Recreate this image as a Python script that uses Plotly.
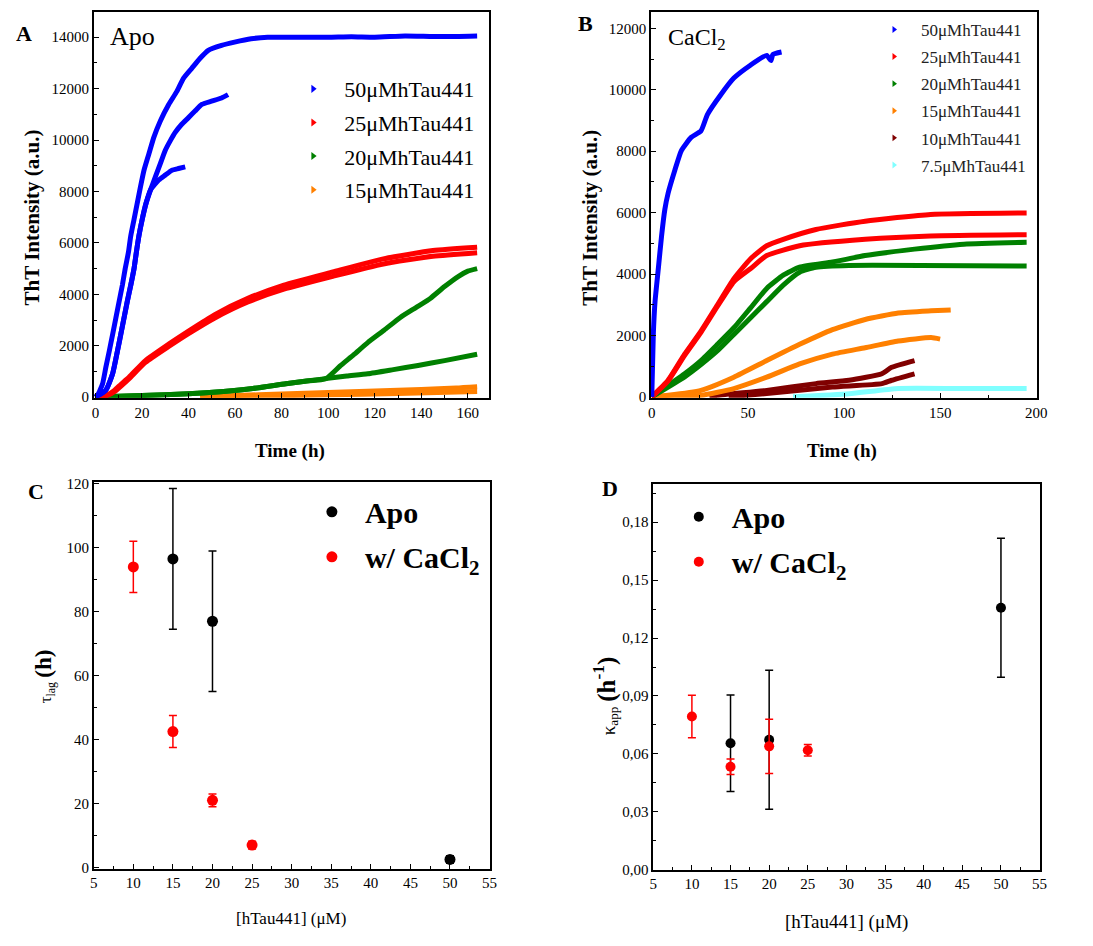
import plotly.graph_objects as go

# ---------------- Panel A (Apo) data: time (h), ThT intensity ----------------
a_blue1_t = [0, 1.0, 3.1, 4.5, 6.0, 7.4, 8.8, 10.2, 11.6, 12.8, 14.2, 15.2, 16.6, 18.0, 19.4, 20.9, 23.0, 25.1, 27.9, 31.5, 35.0, 37.9, 41.4, 44.9, 48.5, 54.2, 59.8, 66.9, 74, 88, 100, 110, 120, 133, 145, 155, 164]
a_blue1_y = [0, 77, 524, 1163, 1801, 2440, 3078, 3718, 4357, 4995, 5634, 6274, 6911, 7551, 8190, 8828, 9467, 10107, 10744, 11384, 11894, 12407, 12790, 13174, 13492, 13684, 13810, 13940, 14000, 14000, 14000, 14020, 14000, 14050, 14030, 14030, 14050]
a_blue2_t = [0, 4.5, 7.4, 9.5, 10.9, 12.3, 13.7, 15.2, 16.6, 17.6, 18.7, 20.1, 21.8, 23.7, 25.8, 27.9, 30.0, 32.2, 34.3, 37.1, 40.0, 42.8, 45.7, 49.9, 54.2, 57.0]
a_blue2_y = [0, 268, 907, 1801, 2440, 3078, 3718, 4357, 4995, 5634, 6274, 6911, 7551, 8061, 8574, 9084, 9594, 9977, 10297, 10617, 10872, 11127, 11384, 11510, 11637, 11767]
a_blue3_t = [0, 4.5, 7.4, 9.5, 10.9, 12.3, 13.7, 15.2, 16.6, 17.6, 18.7, 20.1, 21.8, 23.7, 27.2, 30.0, 32.9, 35.7, 38.6]
a_blue3_y = [0, 268, 907, 1801, 2440, 3078, 3718, 4357, 4995, 5634, 6274, 6911, 7551, 8061, 8444, 8636, 8828, 8892, 8956]
a_red1_t = [0, 5, 8, 11, 14.5, 21.5, 31.5, 40, 51.3, 65.5, 81, 102, 123.7, 145, 164]
a_red1_y = [0, 80, 250, 500, 780, 1420, 2060, 2570, 3210, 3840, 4360, 4870, 5380, 5700, 5830]
a_red2_t = [0, 5, 8, 11, 14.5, 21.5, 31.5, 40, 51.3, 65.5, 81, 102, 123.7, 145, 164]
a_red2_y = [0, 60, 200, 430, 720, 1350, 1970, 2470, 3080, 3700, 4200, 4700, 5180, 5480, 5620]
a_green1_t = [0, 20, 40, 55, 67.6, 81.8, 90, 99, 105, 111, 117, 124, 131, 138, 144, 150, 156, 160, 164]
a_green1_y = [0, 60, 130, 220, 333, 524, 620, 720, 1200, 1650, 2120, 2600, 3100, 3500, 3850, 4300, 4700, 4900, 5000]
a_green2_t = [0, 20, 40, 55, 67.6, 81.8, 90, 99, 108, 117, 128, 138.6, 150, 164]
a_green2_y = [0, 60, 130, 220, 333, 524, 620, 720, 820, 910, 1070, 1230, 1420, 1670]
a_orange1_t = [45, 60, 80, 100, 120, 140, 155, 164]
a_orange1_y = [0, 60, 120, 180, 240, 300, 350, 400]
a_orange2_t = [45, 70, 100, 130, 164]
a_orange2_y = [0, 40, 90, 140, 220]

# ---------------- Panel B (CaCl2) data ----------------
b_blue_t = [0, 0.8, 1.7, 3.4, 5.1, 6.8, 8.5, 12, 15.4, 20.5, 25.6, 29, 35.9, 42.7, 51.3, 59.8, 62, 63, 67.5]
b_blue_y = [0, 2030, 3100, 4170, 5240, 6100, 6630, 7380, 8020, 8450, 8660, 9200, 9840, 10380, 10800, 11120, 10950, 11150, 11230]
b_red1_t = [0, 8.5, 17.1, 25.6, 34.2, 42.7, 51.3, 59.8, 68.4, 85.4, 111, 145, 195]
b_red1_y = [0, 540, 1390, 2140, 3000, 3850, 4490, 4920, 5130, 5450, 5720, 5940, 5990]
b_red2_t = [0, 8.5, 17.1, 25.6, 34.2, 42.7, 51.3, 59.8, 76.9, 111, 145, 195]
b_red2_y = [0, 520, 1350, 2100, 2950, 3750, 4170, 4600, 4920, 5130, 5240, 5280]
b_green1_t = [0, 17.1, 25.6, 34.2, 42.7, 51.3, 59.8, 68.4, 76.9, 94, 111, 136.7, 162.4, 195]
b_green1_y = [0, 750, 1180, 1710, 2250, 2890, 3530, 3960, 4220, 4390, 4600, 4810, 4970, 5030]
b_green2_t = [0, 17.1, 25.6, 34.2, 42.7, 51.3, 59.8, 68.4, 76.9, 85.4, 102.6, 195]
b_green2_y = [0, 650, 1050, 1500, 2030, 2570, 3100, 3640, 4060, 4220, 4280, 4260]
b_orange1_t = [0, 8.5, 25.6, 42.7, 59.8, 76.9, 94, 111, 128.2, 145.3, 155.5]
b_orange1_y = [0, 50, 210, 640, 1180, 1710, 2190, 2520, 2730, 2800, 2830]
b_orange2_t = [0, 25.6, 42.7, 59.8, 76.9, 94, 111, 128.2, 145.3, 150]
b_orange2_y = [0, 50, 270, 640, 1070, 1390, 1600, 1820, 1930, 1880]
b_dred1_t = [30, 34.2, 59.8, 85.4, 102.6, 119.7, 124.8, 136.7]
b_dred1_y = [0, 50, 210, 430, 540, 750, 960, 1180]
b_dred2_t = [40, 59.8, 94, 119.7, 124.8, 136.7]
b_dred2_y = [0, 110, 320, 430, 540, 750]
b_cyan_t = [73.5, 102.6, 128.2, 160, 195]
b_cyan_y = [0, 100, 270, 270, 270]

# ---------------- Panel C / D data ----------------
conc_apo = [15, 20, 50]
tau_apo = [96.5, 77, 2.5]
tau_apo_err = [22, 22, 1.2]
conc_ca = [10, 15, 20, 25]
tau_ca = [94, 42.5, 21, 7]
tau_ca_err = [8, 5, 2, 1.2]
k_apo = [0.0655, 0.0673, 0.1357]
k_apo_err = [0.025, 0.036, 0.036]
k_ca = [0.0794, 0.0533, 0.0639, 0.0619]
k_ca_err = [0.011, 0.004, 0.014, 0.003]

legend_labels_a = ["50μMhTau441", "25μMhTau441", "20μMhTau441", "15μMhTau441"]
legend_labels_b = ["50μMhTau441", "25μMhTau441", "20μMhTau441", "15μMhTau441", "10μMhTau441", "7.5μMhTau441"]

BLUE, RED, GREEN, ORANGE, DRED, CYAN = "#0000FF", "#FF0000", "#008000", "#FF8000", "#800000", "#80FFFF"
FONT = "Times New Roman, Liberation Serif, serif"

fig = go.Figure()

def curve(t, y, color, xa, ya, w=4):
    fig.add_trace(go.Scatter(x=t, y=y, mode="lines", line=dict(color=color, width=w, shape="spline", smoothing=0.5),
                             xaxis=xa, yaxis=ya, showlegend=False, hoverinfo="skip"))

# Panel A
for t, y, c in [(a_orange1_t, a_orange1_y, ORANGE), (a_orange2_t, a_orange2_y, ORANGE),
                (a_green1_t, a_green1_y, GREEN), (a_green2_t, a_green2_y, GREEN),
                (a_red1_t, a_red1_y, RED), (a_red2_t, a_red2_y, RED),
                (a_blue1_t, a_blue1_y, BLUE), (a_blue2_t, a_blue2_y, BLUE), (a_blue3_t, a_blue3_y, BLUE)]:
    curve(t, y, c, "x", "y", w=5)
for i, (lab, c) in enumerate(zip(legend_labels_a, [BLUE, RED, GREEN, ORANGE])):
    fig.add_trace(go.Scatter(x=[None], y=[None], mode="markers", name=lab,
                             marker=dict(symbol="triangle-right", size=7, color=c),
                             xaxis="x", yaxis="y", legend="legend", legendgroup="a%d" % i))

# Panel B
for t, y, c in [(b_cyan_t, b_cyan_y, CYAN), (b_dred1_t, b_dred1_y, DRED), (b_dred2_t, b_dred2_y, DRED),
                (b_orange1_t, b_orange1_y, ORANGE), (b_orange2_t, b_orange2_y, ORANGE),
                (b_green1_t, b_green1_y, GREEN), (b_green2_t, b_green2_y, GREEN),
                (b_red1_t, b_red1_y, RED), (b_red2_t, b_red2_y, RED), (b_blue_t, b_blue_y, BLUE)]:
    curve(t, y, c, "x2", "y2", w=5)
for i, (lab, c) in enumerate(zip(legend_labels_b, [BLUE, RED, GREEN, ORANGE, DRED, CYAN])):
    fig.add_trace(go.Scatter(x=[None], y=[None], mode="markers", name=lab,
                             marker=dict(symbol="triangle-right", size=6, color=c),
                             xaxis="x2", yaxis="y2", legend="legend2", legendgroup="b%d" % i))

# Panel C
fig.add_trace(go.Scatter(x=conc_apo, y=tau_apo, mode="markers", name="<b>Apo</b>",
                         marker=dict(color="black", size=11, symbol="circle"),
                         error_y=dict(type="data", array=tau_apo_err, color="black", thickness=1.5, width=4),
                         xaxis="x3", yaxis="y3", legend="legend3", legendgroup="c0"))
fig.add_trace(go.Scatter(x=conc_ca, y=tau_ca, mode="markers", name="<b>w/ CaCl<sub>2</sub></b>",
                         marker=dict(color="red", size=11, symbol="circle"),
                         error_y=dict(type="data", array=tau_ca_err, color="red", thickness=1.5, width=4),
                         xaxis="x3", yaxis="y3", legend="legend3", legendgroup="c1"))
# Panel D
fig.add_trace(go.Scatter(x=conc_apo, y=k_apo, mode="markers", name="<b>Apo</b>",
                         marker=dict(color="black", size=10, symbol="circle"),
                         error_y=dict(type="data", array=k_apo_err, color="black", thickness=1.5, width=4),
                         xaxis="x4", yaxis="y4", legend="legend4", legendgroup="d0"))
fig.add_trace(go.Scatter(x=conc_ca, y=k_ca, mode="markers", name="<b>w/ CaCl<sub>2</sub></b>",
                         marker=dict(color="red", size=10, symbol="circle"),
                         error_y=dict(type="data", array=k_ca_err, color="red", thickness=1.5, width=4),
                         xaxis="x4", yaxis="y4", legend="legend4", legendgroup="d1"))

W, H = 1093, 946
def px(x): return x / W
def py(y): return 1 - y / H

tickfont = dict(family=FONT, size=15, color="black")
def ax(domain, rng, dtick, mdtick, anchor, **kw):
    d = dict(domain=domain, range=rng, dtick=dtick, tick0=0, ticks="inside", ticklen=5, tickwidth=1.2,
             tickcolor="black", showline=True, linecolor="black", linewidth=1.5, mirror=True,
             showgrid=False, zeroline=False, tickfont=tickfont, anchor=anchor, tickformat="d",
             minor=dict(dtick=mdtick, ticks="inside", ticklen=3, tickcolor="black", showgrid=False))
    d.update(kw)
    return d

fig.update_layout(
    width=W, height=H, margin=dict(l=0, r=0, t=0, b=0),
    paper_bgcolor="white", plot_bgcolor="white",
    xaxis=ax([px(91), px(492)], [-0.7, 169.2], 20, 10, "y"),
    yaxis=ax([py(397.7), py(6)], [-27, 14985], 2000, 1000, "x"),
    xaxis2=ax([px(656), px(1047)], [-0.4, 200.2], 50, 25, "y2"),
    yaxis2=ax([py(397.7), py(6)], [-32, 12535], 2000, 1000, "x2"),
    xaxis3=ax([px(91), px(492.3)], [5, 55], 5, 2.5, "y3", tick0=5),
    yaxis3=ax([py(875.7), py(483.3)], [-0.4, 120.5], 20, 10, "x3"),
    xaxis4=ax([px(658.3), px(1050)], [5, 55], 5, 2.5, "y4", tick0=5),
    yaxis4=ax([py(876.7), py(485)], [0, 0.1999], 0.03, 0.015, "x4", tickformat=None,
              tickvals=[0, 0.03, 0.06, 0.09, 0.12, 0.15, 0.18],
              ticktext=["0,00", "0,03", "0,06", "0,09", "0,12", "0,15", "0,18"]),
    legend=dict(x=px(282), y=py(63), xanchor="left", yanchor="top", bgcolor="rgba(0,0,0,0)",
                font=dict(family=FONT, size=22, color="black"), tracegroupgap=2, itemwidth=52),
    legend2=dict(x=px(875), y=py(6), xanchor="left", yanchor="top", bgcolor="rgba(0,0,0,0)",
                 font=dict(family=FONT, size=17, color="#222"), tracegroupgap=2, itemwidth=44),
    legend3=dict(x=px(299), y=py(487), xanchor="left", yanchor="top", bgcolor="rgba(0,0,0,0)",
                 font=dict(family=FONT, size=30, color="black"), tracegroupgap=3, itemwidth=56),
    legend4=dict(x=px(671), y=py(492), xanchor="left", yanchor="top", bgcolor="rgba(0,0,0,0)",
                 font=dict(family=FONT, size=30, color="black"), tracegroupgap=3, itemwidth=56),
)

ann = []
def text(x, y, s, size, angle=0, bold=False, xanchor="center", yanchor="middle"):
    ann.append(dict(x=px(x), y=py(y), xref="paper", yref="paper", text=("<b>%s</b>" % s) if bold else s,
                    showarrow=False, textangle=angle, xanchor=xanchor, yanchor=yanchor,
                    font=dict(family=FONT, size=size, color="black")))

text(20, 28, "A", 22, bold=True)
text(590, 18, "B", 22, bold=True)
text(32, 493, "C", 22, bold=True)
text(614, 490, "D", 22, bold=True)
text(105, 31, "Apo", 26, xanchor="left")
text(671, 33, "CaCl<sub>2</sub>", 24, xanchor="left")
text(28, 215, "ThT Intensity (a.u.)", 21, angle=-90, bold=True)
text(594, 215, "ThT Intensity (a.u.)", 21, angle=-90, bold=True)
text(290, 452, "Time (h)", 19, bold=True)
text(850, 452, "Time (h)", 19, bold=True)
text(291, 926, "[hTau441] (μM)", 17)
text(854, 930, "[hTau441] (μM)", 19)
text(42, 680, "τ<sub>lag</sub> <b><span style='font-size:23px'>(h)</span></b>", 17, angle=-90)
text(609, 700, "κ<sub>app</sub> <b><span style='font-size:25px'>(h<sup>-1</sup>)</span></b>", 19, angle=-90)
fig.update_layout(annotations=ann)

fig.write_html("out.html")
